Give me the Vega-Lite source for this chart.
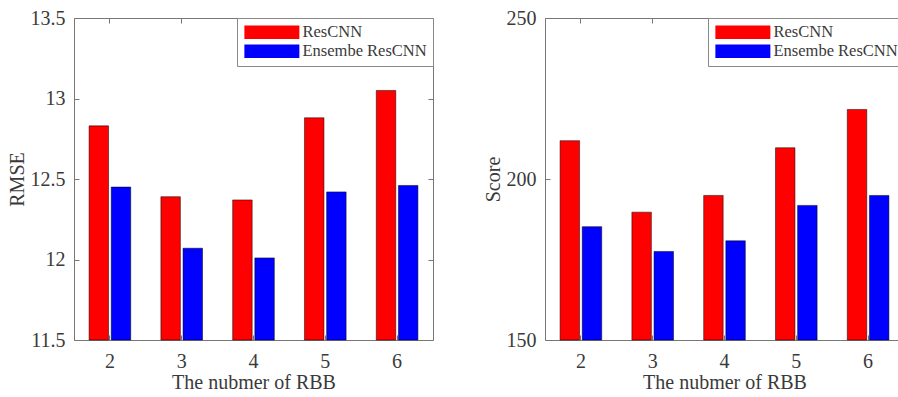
{
  "$schema": "https://vega.github.io/schema/vega-lite/v6.json",
  "padding": {"left": 6, "top": 7, "right": 0, "bottom": 0},
  "spacing": 48,
  "background": "white",
  "datasets": {
    "d": [
      {"RBB": "2", "model": "ResCNN", "RMSE": 12.83, "Score": 211.9},
      {"RBB": "2", "model": "Ensembe ResCNN", "RMSE": 12.45, "Score": 185.2},
      {"RBB": "3", "model": "ResCNN", "RMSE": 12.39, "Score": 189.7},
      {"RBB": "3", "model": "Ensembe ResCNN", "RMSE": 12.07, "Score": 177.5},
      {"RBB": "4", "model": "ResCNN", "RMSE": 12.37, "Score": 194.9},
      {"RBB": "4", "model": "Ensembe ResCNN", "RMSE": 12.01, "Score": 180.8},
      {"RBB": "5", "model": "ResCNN", "RMSE": 12.88, "Score": 209.7},
      {"RBB": "5", "model": "Ensembe ResCNN", "RMSE": 12.42, "Score": 191.8},
      {"RBB": "6", "model": "ResCNN", "RMSE": 13.05, "Score": 221.6},
      {"RBB": "6", "model": "Ensembe ResCNN", "RMSE": 12.46, "Score": 194.9}
    ]
  },
  "data": {"name": "d"},
  "config": {
    "view": {"stroke": "#777777", "strokeWidth": 1},
    "font": "Liberation Serif",
    "axis": {
      "labelFont": "Liberation Serif",
      "titleFont": "Liberation Serif",
      "labelFontSize": 20,
      "titleFontSize": 20,
      "titleFontWeight": "normal",
      "labelColor": "#3a3a3a",
      "titleColor": "#3a3a3a",
      "grid": false,
      "domain": false,
      "tickColor": "#777777",
      "tickSize": -5
    },
    "axisX": {"labelPadding": 16},
    "axisY": {"labelPadding": 14},
    "legend": {
      "labelFont": "Liberation Serif",
      "labelFontSize": 16.5,
      "labelColor": "#3a3a3a"
    }
  },
  "resolve": {"scale": {"color": "independent"}, "legend": {"color": "independent"}},
  "hconcat": [
    {
      "width": 359,
      "height": 322,
      "resolve": {"axis": {"x": "independent", "y": "independent"}},
      "layer": [
        {
          "mark": {"type": "bar", "stroke": "#000000", "strokeWidth": 0.5},
          "encoding": {
            "x": {"field": "RBB", "type": "nominal", "scale": {"paddingInner": 0.42, "paddingOuter": 0.21},
                  "axis": {"orient": "bottom", "labelAngle": 0, "title": "The nubmer of RBB", "titlePadding": 1}},
            "xOffset": {"field": "model", "type": "nominal", "scale": {"domain": ["ResCNN", "Ensembe ResCNN"], "paddingInner": 0.12, "paddingOuter": 0}},
            "y": {"field": "RMSE", "type": "quantitative", "scale": {"domain": [11.5, 13.5], "zero": false, "nice": false},
                  "axis": {"orient": "left", "values": [11.5, 12, 12.5, 13, 13.5], "format": "~g", "title": "RMSE", "titlePadding": 3}},
            "y2": {"datum": 11.5},
            "color": {"field": "model", "type": "nominal",
                      "scale": {"domain": ["ResCNN", "Ensembe ResCNN"], "range": ["#ff0000", "#0000ff"]},
                      "legend": {"title": null, "orient": "top-right", "offset": 0, "strokeColor": "#888888", "fillColor": "white",
                                 "padding": 6, "symbolType": "M-1,-1H7V1H-1Z", "symbolSize": 189, "symbolStrokeWidth": 0, "symbolOpacity": 1, "rowPadding": 2, "labelOffset": 43}}
          }
        },
        {
          "mark": {"type": "bar", "opacity": 0},
          "encoding": {
            "x": {"field": "RBB", "type": "nominal", "axis": {"orient": "top", "labels": false, "title": null}},
            "y": {"field": "RMSE", "type": "quantitative",
                  "axis": {"orient": "right", "labels": false, "title": null, "values": [11.5, 12, 12.5, 13, 13.5]}},
            "y2": {"datum": 11.5}
          }
        }
      ]
    },
    {
      "width": 359,
      "height": 322,
      "resolve": {"axis": {"x": "independent", "y": "independent"}},
      "layer": [
        {
          "mark": {"type": "bar", "stroke": "#000000", "strokeWidth": 0.5},
          "encoding": {
            "x": {"field": "RBB", "type": "nominal", "scale": {"paddingInner": 0.42, "paddingOuter": 0.21},
                  "axis": {"orient": "bottom", "labelAngle": 0, "title": "The nubmer of RBB", "titlePadding": 1}},
            "xOffset": {"field": "model", "type": "nominal", "scale": {"domain": ["ResCNN", "Ensembe ResCNN"], "paddingInner": 0.12, "paddingOuter": 0}},
            "y": {"field": "Score", "type": "quantitative", "scale": {"domain": [150, 250], "zero": false, "nice": false},
                  "axis": {"orient": "left", "values": [150, 200, 250], "title": "Score", "titlePadding": 3}},
            "y2": {"datum": 150},
            "color": {"field": "model", "type": "nominal",
                      "scale": {"domain": ["ResCNN", "Ensembe ResCNN"], "range": ["#ff0000", "#0000ff"]},
                      "legend": {"title": null, "orient": "top-right", "offset": 0, "strokeColor": "#888888", "fillColor": "white",
                                 "padding": 6, "symbolType": "M-1,-1H7V1H-1Z", "symbolSize": 189, "symbolStrokeWidth": 0, "symbolOpacity": 1, "rowPadding": 2, "labelOffset": 43}}
          }
        },
        {
          "mark": {"type": "bar", "opacity": 0},
          "encoding": {
            "x": {"field": "RBB", "type": "nominal", "axis": {"orient": "top", "labels": false, "title": null}},
            "y": {"field": "Score", "type": "quantitative",
                  "axis": {"orient": "right", "labels": false, "title": null, "values": [150, 200, 250]}},
            "y2": {"datum": 150}
          }
        }
      ]
    }
  ]
}
